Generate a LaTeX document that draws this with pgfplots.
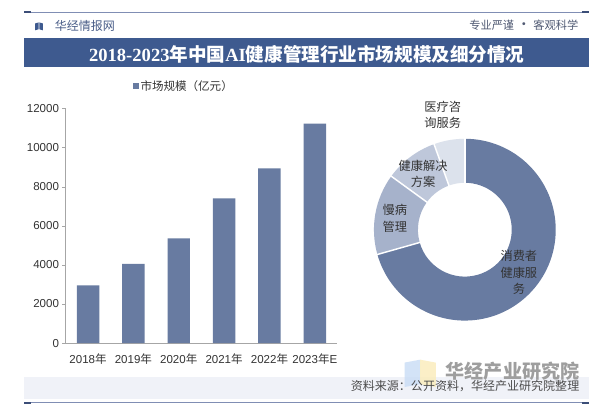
\documentclass[border=0pt]{standalone}
\usepackage{pgfplots}
\pgfplotsset{compat=1.18}
\usepackage{fontspec}
\setmainfont{Liberation Sans}
\newfontfamily\cjk{Noto Sans CJK SC}
\newfontfamily\lserif{Liberation Serif}

\definecolor{barblue}{RGB}{104,123,161}
\definecolor{titlebar}{RGB}{62,90,143}
\definecolor{lineblue}{RGB}{128,142,180}
\definecolor{capblue}{RGB}{60,78,120}
\definecolor{sliceB}{RGB}{166,178,203}
\definecolor{sliceC}{RGB}{190,199,218}
\definecolor{sliceD}{RGB}{220,226,236}
\definecolor{band}{RGB}{240,242,248}
\definecolor{txt}{RGB}{51,51,51}
\definecolor{hdrleft}{RGB}{72,92,135}
\definecolor{hdrright}{RGB}{80,90,115}
\definecolor{logoblue}{RGB}{200,220,245}
\definecolor{logoyellow}{RGB}{250,236,185}

% 市场规模（亿元）
\pgfplotstableread{
x  y
0  2950
1  4050
2  5350
3  7400
4  8930
5  11230
}\marketdata

% 细分占比（%）
\def\vA{70.6} % 消费者健康服务
\def\vB{14.4} % 慢病管理
\def\vC{9.5}  % 健康解决方案
\def\vD{5.5}  % 医疗咨询服务

\begin{document}
\pgfmathsetmacro\aA{90}
\pgfmathsetmacro\aB{\aA-3.6*\vA}
\pgfmathsetmacro\aC{\aB-3.6*\vB}
\pgfmathsetmacro\aD{\aC-3.6*\vC}
\pgfmathsetmacro\aE{\aD-3.6*\vD}
\begin{tikzpicture}[x=1pt,y=1pt]
\fill[white] (0,0) rectangle (600,424);

% 顶部
\draw[lineblue, line width=1pt] (11,411.3) -- (589,411.3);
\fill[capblue] (11,410.3) rectangle (18,412.3);
\fill[capblue] (582,410.3) rectangle (589,412.3);
\fill[titlebar] (22,393) -- (25.5,394) -- (25.5,401) -- (22,400) -- cycle;
\fill[titlebar] (26.5,394) -- (30,393) -- (30,400) -- (26.5,401) -- cycle;
\node[anchor=west, inner sep=0, text=hdrleft, font=\cjk\fontsize{12.3}{14}\selectfont] at (42,397.5) {华经情报网};
\node[anchor=east, inner sep=0, text=hdrright, font=\cjk\fontsize{11.5}{13}\selectfont] at (578,398.5) {专业严谨 {\Large\raisebox{-0.5pt}{•}} 客观科学};
\fill[titlebar] (11,355) rectangle (589,385);
\node[text=white, inner sep=0, font=\fontsize{19}{21}\selectfont\bfseries] at (300,368.5)
  {{\lserif 2018-2023}{\cjk 年中国}{\lserif AI}{\cjk 健康管理行业市场规模及细分情况}};

% 底部
\fill[band] (11,16) rectangle (589,38);
\fill[logoblue, opacity=0.8] (400,28) -- (416,31) -- (416,56) -- (400,53) -- cycle;
\fill[logoyellow, opacity=0.8] (416,31) -- (432,28) -- (432,53) -- (416,56) -- cycle;
\node[anchor=east, inner sep=0, text=black!38, font=\cjk\fontsize{19.5}{21}\selectfont\bfseries] at (579,44) {华经产业研究院};
\node[anchor=east, inner sep=0, text=black!70, font=\cjk\fontsize{12.3}{14}\selectfont] at (579,29) {资料来源：公开资料，华经产业研究院整理};
\draw[lineblue, line width=1pt] (11,12) -- (589,12);
\fill[capblue] (11,11) rectangle (18,13);
\fill[capblue] (582,11) rectangle (589,13);

% 柱状图
\begin{axis}[
  at={(53pt,73pt)}, anchor=south west,
  scale only axis, width=278.4pt, height=240pt,
  xmin=-0.5, xmax=5.5, ymin=0, ymax=12000,
  axis lines*=left, axis line style={black!35, -},
  ybar, bar width=23pt,
  xtick={0,...,5},
  xticklabels={{2018{\cjk 年}},{2019{\cjk 年}},{2020{\cjk 年}},{2021{\cjk 年}},{2022{\cjk 年}},{2023{\cjk 年}E}},
  minor xtick={-0.5,0.5,...,5.5},
  ytick={0,2000,...,12000},
  scaled y ticks=false,
  tick align=outside, major tick length=3pt, minor tick length=3pt,
  x tick style={draw=none}, minor x tick style={black!35},
  y tick style={black!35},
  tick label style={text=txt, font=\fontsize{11.8}{13}\selectfont},
  xticklabel style={yshift=-4pt},
  /pgf/number format/.cd, 1000 sep={}, assume math mode=true, /pgfplots/.cd,
  legend style={at={(rel axis cs:0.435,1.096)}, anchor=center, draw=none, fill=none,
    font=\cjk\fontsize{11.8}{13}\selectfont, text=txt, inner sep=0pt},
  legend image code/.code={\fill[barblue] (0pt,-3pt) rectangle (6pt,3pt);},
]
\addplot[fill=barblue, draw=none] table[x=x, y=y] {\marketdata};
\legend{市场规模（亿元）}
\end{axis}

% 环形图
\begin{axis}[
  at={(461.7pt,189pt)}, anchor=center,
  scale only axis, width=186pt, height=186pt,
  xmin=-93, xmax=93, ymin=-93, ymax=93,
  hide axis,
]
\fill[barblue] (axis cs:0,0) ++(\aA:93pt) arc[start angle=\aA, end angle=\aB, radius=93pt] -- ++({\aB+180}:45pt) arc[start angle=\aB, end angle=\aA, radius=48pt] -- cycle;
\fill[sliceB] (axis cs:0,0) ++(\aB:93pt) arc[start angle=\aB, end angle=\aC, radius=93pt] -- ++({\aC+180}:45pt) arc[start angle=\aC, end angle=\aB, radius=48pt] -- cycle;
\fill[sliceC] (axis cs:0,0) ++(\aC:93pt) arc[start angle=\aC, end angle=\aD, radius=93pt] -- ++({\aD+180}:45pt) arc[start angle=\aD, end angle=\aC, radius=48pt] -- cycle;
\fill[sliceD] (axis cs:0,0) ++(\aD:93pt) arc[start angle=\aD, end angle=\aE, radius=93pt] -- ++({\aE+180}:45pt) arc[start angle=\aE, end angle=\aD, radius=48pt] -- cycle;
\draw[white, line width=1.5pt] (axis cs:0,0) ++(\aA:47pt) -- ++(\aA:47pt);
\draw[white, line width=1.5pt] (axis cs:0,0) ++(\aB:47pt) -- ++(\aB:47pt);
\draw[white, line width=1.5pt] (axis cs:0,0) ++(\aC:47pt) -- ++(\aC:47pt);
\draw[white, line width=1.5pt] (axis cs:0,0) ++(\aD:47pt) -- ++(\aD:47pt);
\end{axis}

% 环形图标签
\begin{scope}[every node/.style={align=center, inner sep=0, text=txt, font=\cjk\fontsize{12.5}{17}\selectfont}]
\node at (439,306.5) {医疗咨\\询服务};
\node at (419,246) {健康解决\\方案};
\node at (390,200.5) {慢病\\管理};
\node at (517,145) {消费者\\健康服\\务};
\end{scope}
\end{tikzpicture}
\end{document}
